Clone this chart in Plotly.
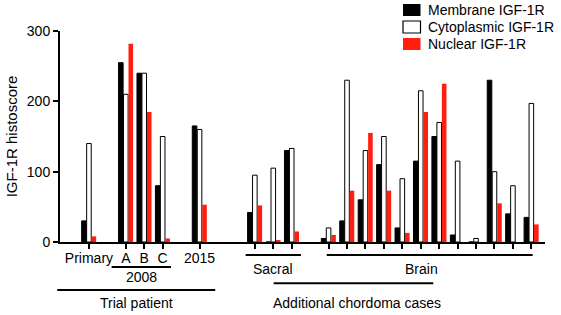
import plotly.graph_objects as go

# ---------------- data ----------------
cases = ["Primary", "A", "B", "C", "2015",
         "Sacral 1", "Sacral 2", "Sacral 3",
         "Brain 1", "Brain 2", "Brain 3", "Brain 4", "Brain 5", "Brain 6",
         "Brain 7", "Brain 8", "Brain 9", "Brain 10", "Brain 11", "Brain 12"]
tick_labels = ["Primary", "A", "B", "C", "2015"] + [""] * 15
membrane = [30, 255, 240, 80, 165,
            42, 0, 130,
            5, 30, 60, 110, 20, 115, 150, 10, 0, 230, 40, 35]
cytoplasmic = [140, 210, 240, 150, 160,
               95, 105, 133,
               20, 230, 130, 150, 90, 215, 170, 115, 5, 100, 80, 197]
nuclear = [8, 282, 185, 5, 53,
           52, 2, 15,
           10, 73, 155, 73, 13, 185, 225, 0, 0, 55, 0, 25]
series_names = ["Membrane IGF-1R", "Cytoplasmic IGF-1R", "Nuclear IGF-1R"]

# gaps (empty slots) after some cases -> layout only
gap_after = {"Primary": 1, "C": 1, "2015": 2, "Sacral 3": 1}
xpos = []
p = 0
for c in cases:
    xpos.append(p)
    p += 1 + gap_after.get(c, 0)

W, H = 561, 315
ML, MR, MT, MB = 60, 16, 31, 73
PW, PH = W - ML - MR, H - MT - MB
XR = [-1.57, 24.74]

def xp(v):          # data x -> paper
    return (v - XR[0]) / (XR[1] - XR[0])

def xpx(px):        # pixel x -> paper
    return (px - ML) / PW

def yp(py):         # pixel y -> paper
    return (H - MB - py) / PH

RED = "#ff1e10"
FONT = "Liberation Sans, Arial, sans-serif"
fills = ["black", "white", RED]
lines = ["black", "black", RED]
lwid = [1, 1, 0]
values = [membrane, cytoplasmic, nuclear]

fig = go.Figure()
for name, vals, fc, lc, lw in zip(series_names, values, fills, lines, lwid):
    fig.add_trace(go.Bar(x=xpos, y=vals, name=name, showlegend=False,
                         marker=dict(color=fc, line=dict(color=lc, width=lw))))

fig.update_layout(
    width=W, height=H,
    margin=dict(l=ML, r=MR, t=MT, b=MB, autoexpand=False),
    paper_bgcolor="white", plot_bgcolor="white",
    font=dict(family=FONT, size=14, color="black"),
    barmode="group", bargap=0.19, bargroupgap=0.08,
    showlegend=False,
)
fig.update_xaxes(range=XR, tickmode="array", tickvals=xpos, ticktext=tick_labels,
                 showline=True, linecolor="black", linewidth=2,
                 ticks="outside", ticklen=5, tickwidth=1.5, tickcolor="black",
                 ticklabelstandoff=-3,
                 showgrid=False, zeroline=False, tickfont=dict(size=14))
fig.update_yaxes(range=[0, 300], tickvals=[0, 100, 200, 300],
                 showline=True, linecolor="black", linewidth=2,
                 ticks="outside", ticklen=5, tickwidth=2, tickcolor="black",
                 showgrid=False, zeroline=False, tickfont=dict(size=14),
                 title=dict(text="IGF-1R histoscore", font=dict(size=15), standoff=6))

# manual legend (top right)
leg_y = [10, 27, 44]
for name, fc, lc, py in zip(series_names, fills, lines, leg_y):
    fig.add_shape(type="rect", xref="paper", yref="paper",
                  x0=xpx(403), x1=xpx(420.5), y0=yp(py + 6), y1=yp(py - 6),
                  fillcolor=fc, line=dict(color=lc, width=1.2 if fc == "white" else 0))
    fig.add_annotation(xref="paper", yref="paper", x=xpx(426), y=yp(py),
                       text=name, showarrow=False, xanchor="left", yanchor="middle",
                       font=dict(size=14, color="black"))

brackets = [
    (1.23, 4.45, 267, "2008", 2.86, 277),
    (-1.72, 6.85, 290, "Trial patient", 2.6, 303),
    (8.5, 11.5, 255, "Sacral", 10.0, 269),
    (12.9, 24.07, 255, "Brain", 18.05, 269),
    (10.02, 18.68, 283.3, "Additional chordoma cases", 14.52, 302.7),
]
for x0, x1, py, label, xt, pyt in brackets:
    fig.add_shape(type="line", xref="paper", yref="paper",
                  x0=xp(x0), x1=xp(x1), y0=yp(py), y1=yp(py),
                  line=dict(color="black", width=2))
    fig.add_annotation(xref="paper", yref="paper", x=xp(xt), y=yp(pyt),
                       text=label, showarrow=False, xanchor="center", yanchor="middle",
                       font=dict(size=14, color="black"))

fig.write_html("out.html", config={"displayModeBar": False},
               post_script="document.body.style.margin='0';document.body.style.overflow='hidden';")
